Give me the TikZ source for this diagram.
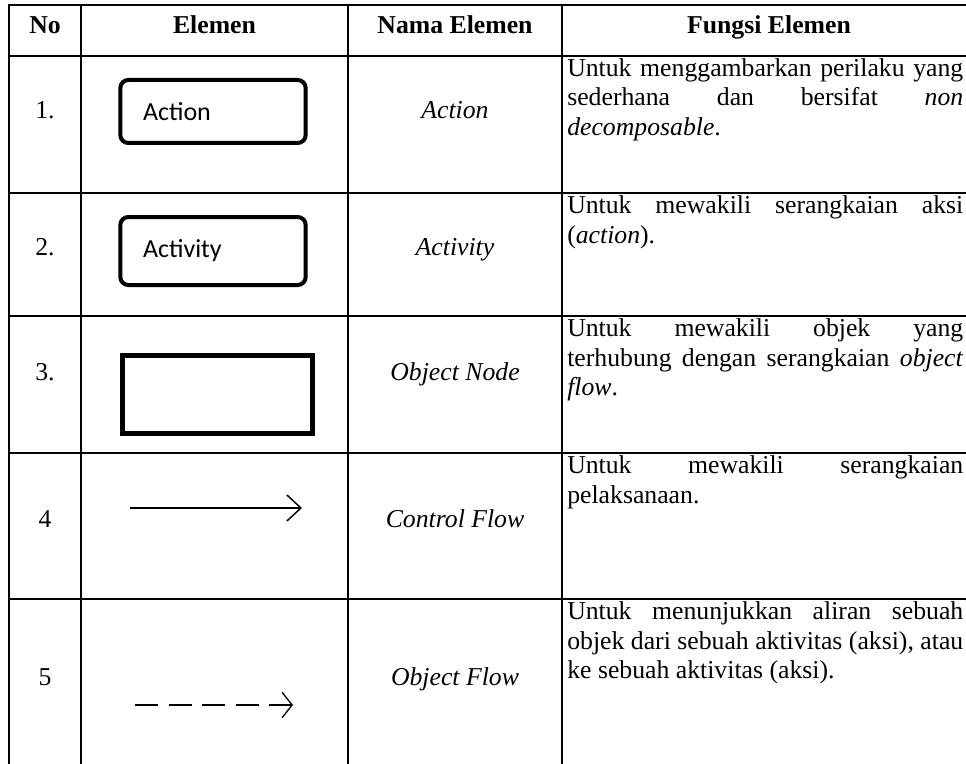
\documentclass[tikz,border=0pt]{standalone}
\usepackage{fontspec}
\setmainfont{Liberation Serif}
\newfontfamily\calibri{Carlito}
\usepackage{tikz}
\usetikzlibrary{arrows.meta}
\tikzset{
  tabline/.style={line width=1.6pt, line cap=rect},
  cell/.style={inner sep=0pt, font=\fontsize{19.3pt}{22.1pt}\selectfont},
  head/.style={inner sep=0pt, font=\fontsize{19.3pt}{22.1pt}\selectfont\bfseries},
  actbox/.style={draw, line width=3pt, rounded corners=6pt,
    minimum height=47.25pt, inner xsep=17pt, text width=105pt, align=left,
    font=\calibri\fontsize{19.5pt}{22pt}\selectfont},
  objbox/.style={draw, line width=3.75pt, minimum width=142.5pt,
    minimum height=58.5pt},
  ctrlflow/.style={line width=1.5pt,
    -{Straight Barb[length=10.5pt,width=19.5pt,line width=1.1pt]}},
  objflow/.style={line width=1pt, dash pattern=on 17.25pt off 7.9pt,
    -{Straight Barb[length=7.5pt,width=19pt,line width=1pt]}}
}
\newcommand{\just}[1]{\makebox[297pt][s]{#1}}

\begin{document}
\begin{tikzpicture}[x=0.75pt,y=-0.75pt]
    \useasboundingbox (0,0) rectangle (966,763);
    %table rules
    \draw[tabline] (9,5) -- (966,5);
    \draw[tabline] (9,56) -- (966,56);
    \draw[tabline] (9,193) -- (966,193);
    \draw[tabline] (9,316) -- (966,316);
    \draw[tabline] (9,453) -- (966,453);
    \draw[tabline] (9,599) -- (966,599);
    \draw[tabline] (9,5) -- (9,763);
    \draw[tabline] (81,5) -- (81,763);
    \draw[tabline] (348,5) -- (348,763);
    \draw[tabline] (562,5) -- (562,763);
    %header
    \node[head, anchor=base] (hno) at (45,34) {No};
    \node[head, anchor=base] (helemen) at (214.5,34) {Elemen};
    \node[head, anchor=base] (hnama) at (455,34) {Nama Elemen};
    \node[head, anchor=base] (hfungsi) at (769,34) {Fungsi Elemen};
    %numbers
    \node[cell, anchor=base] (no1) at (45,119) {1.};
    \node[cell, anchor=base] (no2) at (45,255) {2.};
    \node[cell, anchor=base] (no3) at (45,380) {3.};
    \node[cell, anchor=base] (no4) at (45,527) {4};
    \node[cell, anchor=base] (no5) at (45,685) {5};
    %elements
    \node[actbox] (action) at (213,111.5) {Action};
    \node[actbox, minimum height=51pt] (activity) at (213,251) {Activity};
    \node[objbox] (objnode) at (217.5,394.5) {};
    \coordinate (cfstart) at (130,508);
    \coordinate (cfend) at (302,508);
    \draw[ctrlflow] (cfstart) -- (cfend);
    \coordinate (ofstart) at (135,705);
    \coordinate (ofend) at (293,705);
    \draw[objflow] (ofstart) -- (ofend);
    %names
    \node[cell, anchor=base] (nama1) at (455,119) {\textit{Action}};
    \node[cell, anchor=base] (nama2) at (455,255) {\textit{Activity}};
    \node[cell, anchor=base] (nama3) at (455,380) {\textit{Object Node}};
    \node[cell, anchor=base] (nama4) at (455,527) {\textit{Control Flow}};
    \node[cell, anchor=base] (nama5) at (455,685) {\textit{Object Flow}};
    %functions
    \node[cell, anchor=base west] (f1a) at (567,76.5) {\just{Untuk menggambarkan perilaku yang}};
    \node[cell, anchor=base west] (f1b) at (567,106) {\just{sederhana dan bersifat \textit{non}}};
    \node[cell, anchor=base west] (f1c) at (567,135.5) {\textit{decomposable}.};
    \node[cell, anchor=base west] (f2a) at (567,213.5) {\just{Untuk mewakili serangkaian aksi}};
    \node[cell, anchor=base west] (f2b) at (567,243) {(\textit{action}).};
    \node[cell, anchor=base west] (f3a) at (567,336.5) {\just{Untuk mewakili objek yang}};
    \node[cell, anchor=base west] (f3b) at (567,366) {\just{terhubung dengan serangkaian \textit{object}}};
    \node[cell, anchor=base west] (f3c) at (567,395.5) {\textit{flow}.};
    \node[cell, anchor=base west] (f4a) at (567,473.5) {\just{Untuk mewakili serangkaian}};
    \node[cell, anchor=base west] (f4b) at (567,503) {pelaksanaan.};
    \node[cell, anchor=base west] (f5a) at (567,619.5) {\just{Untuk menunjukkan aliran sebuah}};
    \node[cell, anchor=base west] (f5b) at (567,649) {\just{objek dari sebuah aktivitas (aksi), atau}};
    \node[cell, anchor=base west] (f5c) at (567,678.5) {ke sebuah aktivitas (aksi).};
\end{tikzpicture}
\end{document}
